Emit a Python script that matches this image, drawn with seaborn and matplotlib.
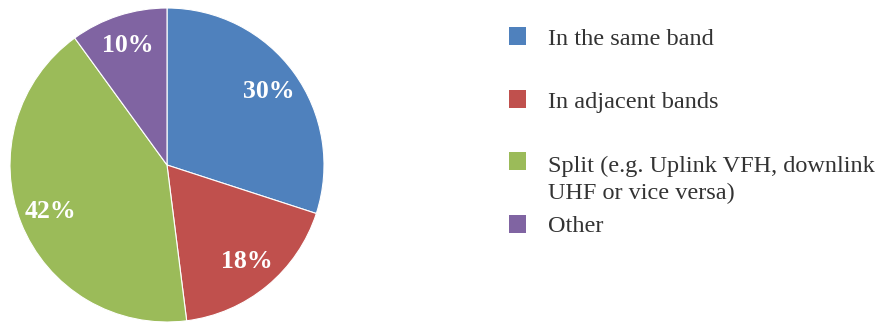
import matplotlib
matplotlib.use("Agg")
import matplotlib.pyplot as plt
from matplotlib.patches import Rectangle
import seaborn as sns

# Survey shares by frequency arrangement
categories = [
    "In the same band",
    "In adjacent bands",
    "Split (e.g. Uplink VFH, downlink\nUHF or vice versa)",
    "Other",
]
shares = [30, 18, 42, 10]
colors = ["#4F81BD", "#C0504D", "#9BBB59", "#8064A2"]

sns.set_theme(style="white")
plt.rcParams["font.family"] = ["Liberation Serif", "DejaVu Serif"]

W, H = 877, 327
fig = plt.figure(figsize=(W / 100, H / 100), dpi=100)
fig.patch.set_facecolor("white")

# Pie centred at (167, 165) px with a radius of about 157 px
cx, cy, r = 167, 165, 157
ax = fig.add_axes([(cx - r) / W, (H - cy - r) / H, 2 * r / W, 2 * r / H])
palette = sns.color_palette(colors)

wedges, texts, autotexts = ax.pie(
    shares,
    colors=palette,
    startangle=90,
    counterclock=False,
    autopct=lambda p: f"{p:.0f}%",
    pctdistance=0.8,
    wedgeprops=dict(edgecolor="white", linewidth=0.8),
    textprops=dict(color="white", fontsize=18.5, fontweight="bold"),
)
for w in wedges:
    w.set_clip_on(False)
ax.set_xlim(-1, 1)
ax.set_ylim(-1, 1)
ax.set_aspect("equal")
ax.axis("off")

# Legend drawn as squares with labels on the right; the square sits
# level with the first line of its label
square_x, square_w, square_h = 509, 17, 18
text_x = 548
line_step = 30
square_centres = [36, 99, 160.5, 223.5]
for label, col, yc in zip(categories, palette, square_centres):
    fig.patches.append(
        Rectangle((square_x / W, (H - yc - square_h / 2) / H),
                  square_w / W, square_h / H,
                  transform=fig.transFigure, facecolor=col, edgecolor="none")
    )
    n_extra = label.count("\n")
    baseline = yc + 9 + n_extra * line_step
    fig.text(text_x / W, (H - baseline) / H, label, fontsize=17.5,
             color="#333333", ha="left", va="baseline", linespacing=1.42)

fig.savefig("out.png", dpi=100, facecolor="white")
